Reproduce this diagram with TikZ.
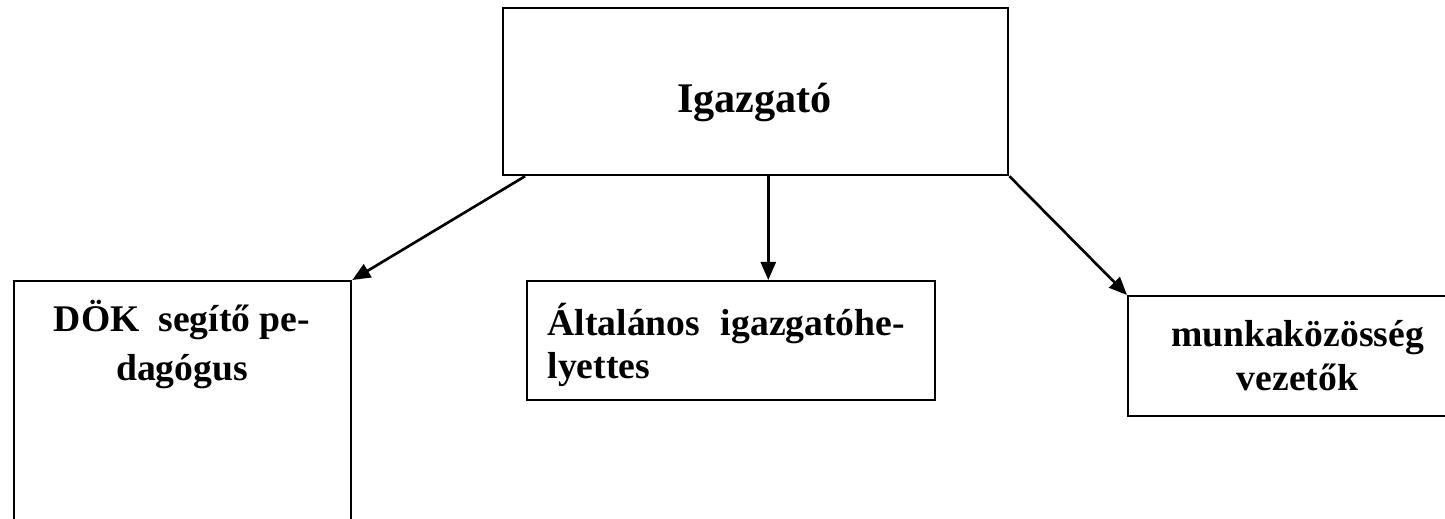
\documentclass[tikz,border=0pt]{standalone}
\usepackage{fontspec}
\setmainfont{Liberation Serif}
\usetikzlibrary{arrows.meta,calc}

\begin{document}
\begin{tikzpicture}[x=0.01cm, y=-0.01cm,
		box/.style={draw, line width=0.6pt, inner sep=0pt, anchor=north west},
		txt/.style={inner sep=0pt, font=\bfseries\fontsize{10.7pt}{12.24pt}\selectfont},
		arr/.style={line width=0.75pt, -{Triangle[length=0.18cm, width=0.15cm]}}]
	\path[use as bounding box, clip] (0, 0) rectangle (1445, 518);
	% boxes
	\node[box, minimum width=5.05cm, minimum height=1.67cm] (ig) at (502, 7) {};
	\node[box, minimum width=3.37cm, minimum height=3cm] (dok) at (13, 280) {};
	\node[box, minimum width=4.08cm, minimum height=1.19cm] (alt) at (526, 280) {};
	\node[box, minimum width=3.5cm, minimum height=1.2cm] (mk) at (1127, 295) {};
	% texts (base = last line)
	\node[txt, font=\bfseries\fontsize{12pt}{14pt}\selectfont, anchor=base] (igT) at (754.5, 112.5) {Igazgató};
	\node[txt, font=\bfseries\fontsize{10.7pt}{13.66pt}\selectfont, align=center, anchor=base] (dokT) at (182, 380) {DÖK\ \ segítő pe-\\dagógus};
	\node[txt, text width=3.57cm, align=left, anchor=base west] (altT) at (547, 335) {Általános\hfill igazgatóhe-\\lyettes};
	\node[txt, align=center, anchor=base] (mkT) at (1297.5, 390) {munkaközösség\\vezetők};
	% arrows
	\coordinate (igS) at ($(ig.south west)!0.5248!(ig.south east)$);
	\draw[arr] ($(ig.south west)!0.0455!(ig.south east)$) -- (dok.north east);
	\draw[arr] (igS) -- (igS |- alt.north);
	\draw[arr] (ig.south east) -- (mk.north west);
\end{tikzpicture}
\end{document}
